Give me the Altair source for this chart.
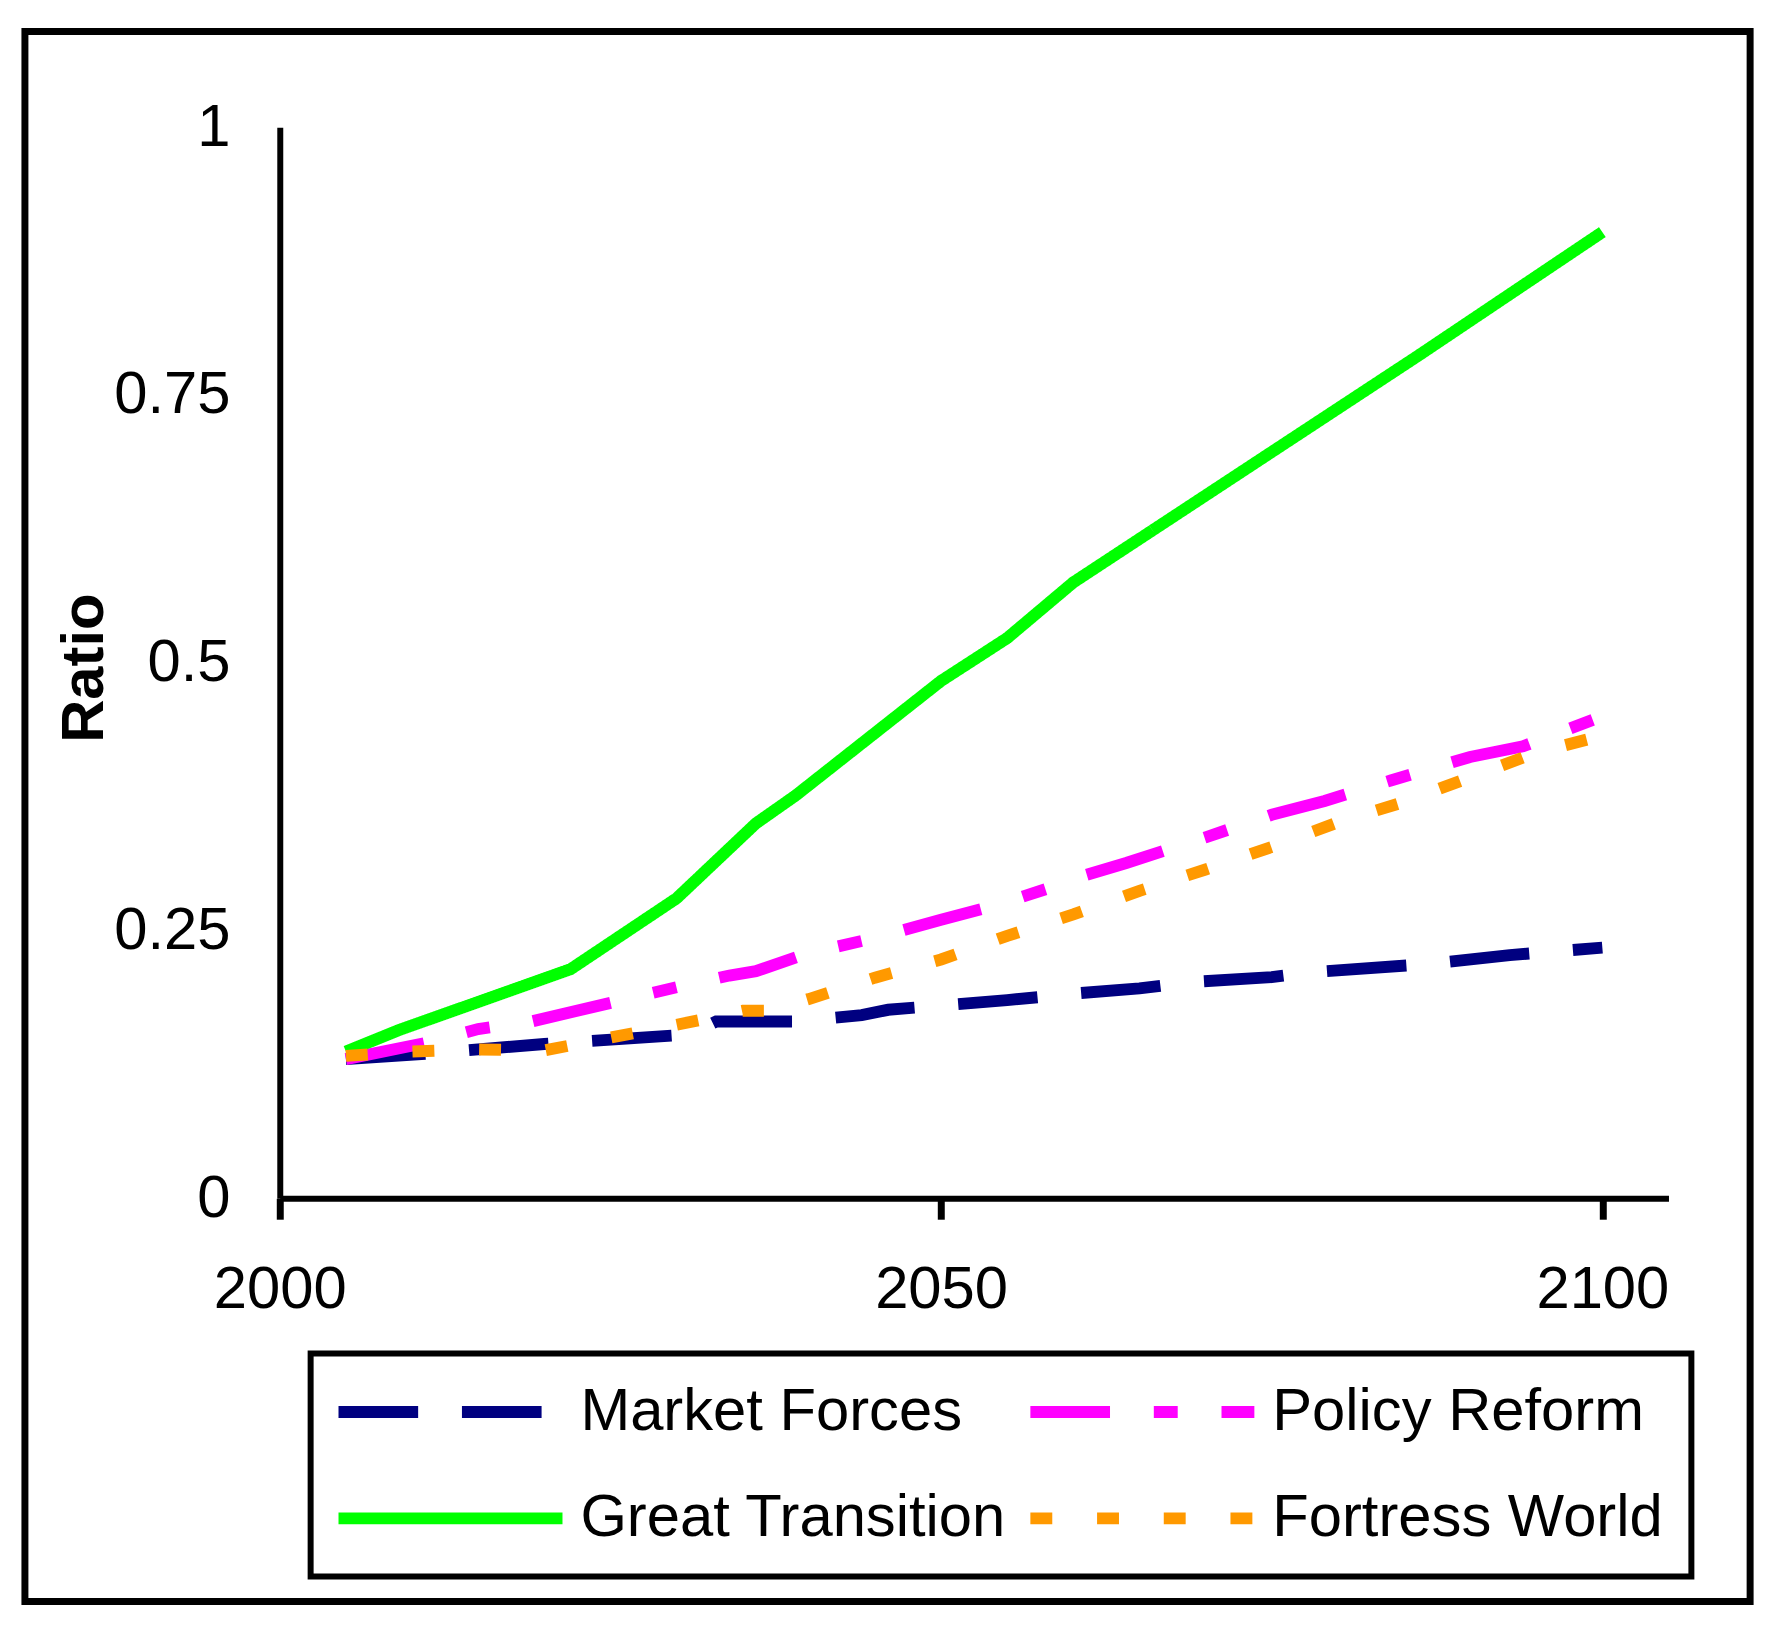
import altair as alt
import pandas as pd

FONT = "Liberation Sans, Arial, sans-serif"

series_names = ["Market Forces", "Policy Reform", "Great Transition", "Fortress World"]
series_colors = ["#000080", "#FF00FF", "#00FF00", "#FF9900"]
series_dashes = [[80, 44], [80, 44, 24, 44], [1, 0], [22, 45]]
series_widths = [12, 12, 10, 12]

mf_years = [2005, 2011, 2020, 2031, 2033, 2039, 2044, 2046, 2050, 2055, 2060, 2065, 2069, 2075, 2078, 2087, 2093, 2100]
mf_vals = [0.130, 0.135, 0.144, 0.153, 0.165, 0.165, 0.171, 0.176, 0.180, 0.185, 0.191, 0.196, 0.202, 0.2065, 0.211, 0.219, 0.227, 0.234]

pr_years = [2005, 2011, 2015, 2019, 2030, 2034, 2036, 2040, 2045, 2050, 2054, 2056, 2060, 2061, 2064, 2070, 2075, 2079, 2084, 2090, 2094, 2100]
pr_vals = [0.130, 0.145, 0.158, 0.165, 0.197, 0.208, 0.212, 0.229, 0.243, 0.260, 0.273, 0.281, 0.297, 0.302, 0.313, 0.337, 0.358, 0.371, 0.390, 0.412, 0.422, 0.450]

gt_years = [2005, 2009, 2022, 2030, 2036, 2039, 2050, 2055, 2060, 2086, 2100]
gt_vals = [0.137, 0.157, 0.214, 0.280, 0.350, 0.376, 0.483, 0.523, 0.575, 0.786, 0.902]

fw_years = [2005, 2010, 2015, 2020, 2030, 2032, 2035, 2037, 2040, 2045, 2050, 2055, 2060, 2065, 2070, 2075, 2080, 2085, 2090, 2095, 2100]
fw_vals = [0.133, 0.137, 0.139, 0.138, 0.162, 0.167, 0.175, 0.175, 0.186, 0.206, 0.223, 0.245, 0.265, 0.287, 0.307, 0.328, 0.351, 0.370, 0.393, 0.416, 0.432]

x_ticks = [2000, 2050, 2100]
y_ticks = [0, 0.25, 0.5, 0.75, 1]

rows = []
for name, ys, vs in [
    ("Market Forces", mf_years, mf_vals),
    ("Policy Reform", pr_years, pr_vals),
    ("Great Transition", gt_years, gt_vals),
    ("Fortress World", fw_years, fw_vals),
]:
    for yr, v in zip(ys, vs):
        rows.append({"series": name, "year": yr, "ratio": v})
df = pd.DataFrame(rows)

# long horizontal legend stroke drawn as a custom symbol path
legend = alt.Legend(
    orient="none", legendX=31, legendY=1232, columns=2, direction="horizontal",
    title=None,
    symbolType="M-4.5918,0H4.5918", symbolSize=2401, symbolStrokeWidth=12,
    symbolOffset=82, labelOffset=100,
    labelFontSize=60, labelFont=FONT, labelColor="black",
    labelLimit=1000, columnPadding=0, rowPadding=46, padding=28,
    strokeColor="black",
)

lines = alt.Chart(df).mark_line(strokeCap="butt", strokeJoin="miter", clip=False).encode(
    x=alt.X("year:Q",
            scale=alt.Scale(domain=[2000, 2105], nice=False, zero=False),
            axis=alt.Axis(values=x_ticks, format="d", title=None,
                          domainColor="black", domainWidth=6,
                          ticks=True, tickColor="black", tickWidth=7, tickSize=21,
                          labelFontSize=60, labelFont=FONT, labelColor="black",
                          labelPadding=42, grid=False, labelFlush=False, labelOverlap=False)),
    y=alt.Y("ratio:Q",
            scale=alt.Scale(domain=[0, 1], nice=False),
            axis=alt.Axis(values=y_ticks, format=".2~f", title="Ratio",
                          domainColor="black", domainWidth=6,
                          ticks=False, tickSize=0,
                          labelFontSize=60, labelFont=FONT, labelColor="black",
                          labelPadding=50, grid=False, labelOverlap=False,
                          titleFont=FONT, titleFontSize=60, titleFontWeight="bold",
                          titleColor="black", titleAngle=270, titleX=-178, titleY=543,
                          titleAlign="center", titleBaseline="alphabetic")),
    color=alt.Color("series:N", scale=alt.Scale(domain=series_names, range=series_colors), legend=legend),
    strokeDash=alt.StrokeDash("series:N", scale=alt.Scale(domain=series_names, range=series_dashes), legend=legend),
    strokeWidth=alt.StrokeWidth("series:N", scale=alt.Scale(domain=series_names, range=series_widths), legend=None),
)

border = alt.Chart(alt.Data(values=[{}])).mark_rect(
    fillOpacity=0, stroke="black", strokeWidth=7
).encode(
    x=alt.value(-256), x2=alt.value(1477), y=alt.value(-96), y2=alt.value(1481)
)

chart = alt.layer(lines, border).properties(
    width=1395, height=1076,
    padding={"left": 273, "top": 116, "right": 108, "bottom": 437},
    autosize=alt.AutoSizeParams(type="none"),
    background="white",
).configure_view(stroke=None).configure_legend(strokeWidth=6)

chart.save("out.html", embed_options={"renderer": "svg", "actions": False})
